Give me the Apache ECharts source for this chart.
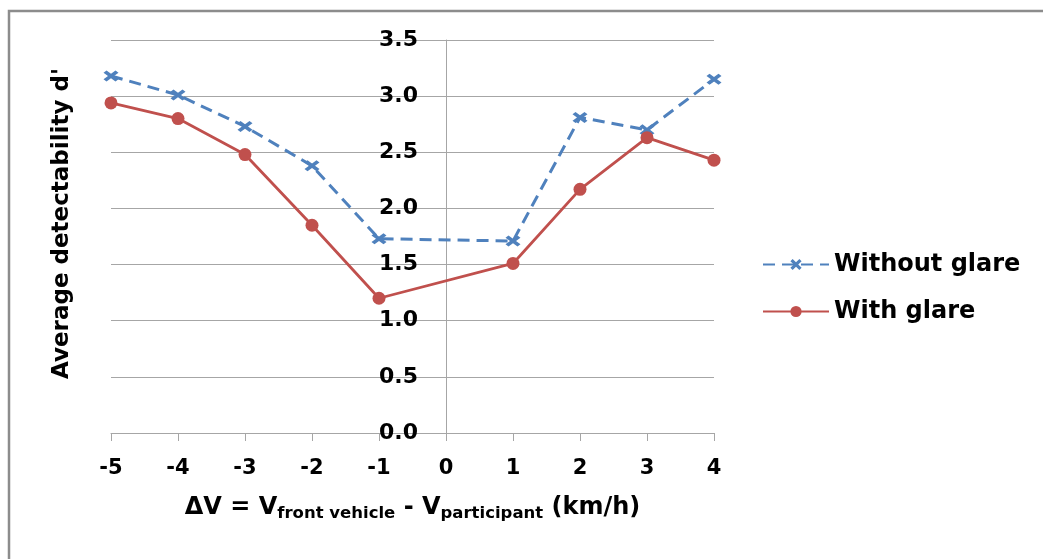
<!DOCTYPE html>
<html>
<head>
<meta charset="utf-8">
<script src="https://cdn.jsdelivr.net/npm/echarts@6/dist/echarts.min.js"></script>
<style>
  html, body { margin: 0; padding: 0; background: #fff; }
  #chart { width: 1043px; height: 559px; }
</style>
</head>
<body>
<div id="chart"></div>
<script>
// Speed difference between front vehicle and participant (km/h)
const deltaV = [-5, -4, -3, -2, -1, 1, 2, 3, 4];
// Average detectability d' per condition
const withoutGlare = [3.18, 3.01, 2.73, 2.38, 1.73, 1.71, 2.81, 2.70, 3.15];
const withGlare = [2.94, 2.80, 2.48, 1.85, 1.20, 1.51, 2.17, 2.63, 2.43];
const seriesNames = ['Without glare', 'With glare'];

const X_MIN = -5, X_MAX = 4;
const FONT = '"DejaVu Sans", Arial, sans-serif';
const BLUE = '#4F81BD';
const RED = '#C0504D';
const AXIS_GRAY = '#A6A6A6';

const GRID = { left: 111, right: 329, top: 40, bottom: 126 };
const PLOT_W = 1043 - GRID.left - GRID.right;
// the value axis crosses the horizontal axis at ΔV = 0
const Y_AXIS_SHIFT = PLOT_W * (0 - X_MIN) / (X_MAX - X_MIN);

// filled "x" cross used as the marker of the dashed series
const CROSS = 'path://M0,2 L2,0 L5,3 L8,0 L10,2 L7,5 L10,8 L8,10 L5,7 L2,10 L0,8 L3,5 Z';

const zip = (xs, ys) => xs.map((x, i) => [x, ys[i]]);

const chart = echarts.init(document.getElementById('chart'), null, { renderer: 'canvas' });

chart.setOption({
  animation: false,
  backgroundColor: '#fff',
  graphic: [{
    type: 'rect',
    shape: { x: 9, y: 11, width: 1100, height: 600 },
    style: { fill: 'none', stroke: '#8C8C8C', lineWidth: 2.5 },
    silent: true,
    z: -10
  }],
  grid: Object.assign({ containLabel: false, outerBoundsMode: 'none' }, GRID),
  legend: {
    orient: 'vertical',
    left: 757,
    top: 247,
    itemWidth: 66,
    itemHeight: 14,
    itemGap: 22,
    textStyle: { fontFamily: FONT, fontSize: 24, fontWeight: 'bold', color: '#000', lineHeight: 25 },
    data: seriesNames
  },
  xAxis: {
    type: 'value',
    min: X_MIN,
    max: X_MAX,
    interval: 1,
    name: '{n|ΔV = V}{s|front vehicle}{n| - V}{s|participant}{n| (km/h)}',
    nameLocation: 'middle',
    nameGap: 60,
    nameTextStyle: {
      rich: {
        n: { fontFamily: FONT, fontSize: 24, fontWeight: 'bold', color: '#000' },
        s: { fontFamily: FONT, fontSize: 16.5, fontWeight: 'bold', color: '#000', padding: [12, 0, 0, 0] }
      }
    },
    axisLine: { show: true, onZero: false, lineStyle: { color: AXIS_GRAY, width: 1 } },
    axisTick: { show: true, length: 8, lineStyle: { color: AXIS_GRAY, width: 1 } },
    axisLabel: { fontFamily: FONT, fontSize: 21, fontWeight: 'bold', color: '#000', margin: 25 },
    splitLine: { show: false }
  },
  yAxis: {
    type: 'value',
    min: 0,
    max: 3.5,
    interval: 0.5,
    offset: -Y_AXIS_SHIFT,
    name: "Average detectability d'",
    nameLocation: 'middle',
    nameGap: 372,
    nameRotate: 90,
    nameTextStyle: { fontFamily: FONT, fontSize: 23, fontWeight: 'bold', color: '#000', padding: [0, 0, 0, 26] },
    axisLine: { show: true, onZero: false, lineStyle: { color: AXIS_GRAY, width: 1 } },
    axisTick: { show: false },
    axisLabel: {
      fontFamily: FONT, fontSize: 22, fontWeight: 'bold', color: '#000', margin: 28,
      formatter: v => v.toFixed(1)
    },
    splitLine: { show: true, lineStyle: { color: AXIS_GRAY, width: 1 } }
  },
  series: [
    {
      name: seriesNames[0],
      type: 'line',
      data: zip(deltaV, withoutGlare),
      symbol: CROSS,
      symbolSize: [15, 11],
      color: BLUE,
      itemStyle: { color: BLUE },
      lineStyle: { color: BLUE, width: 3, type: [12, 7] },
      z: 3
    },
    {
      name: seriesNames[1],
      type: 'line',
      data: zip(deltaV, withGlare),
      symbol: 'circle',
      symbolSize: 13,
      color: RED,
      itemStyle: { color: RED },
      lineStyle: { color: RED, width: 2.8 },
      z: 4
    }
  ]
});
</script>
</body>
</html>
